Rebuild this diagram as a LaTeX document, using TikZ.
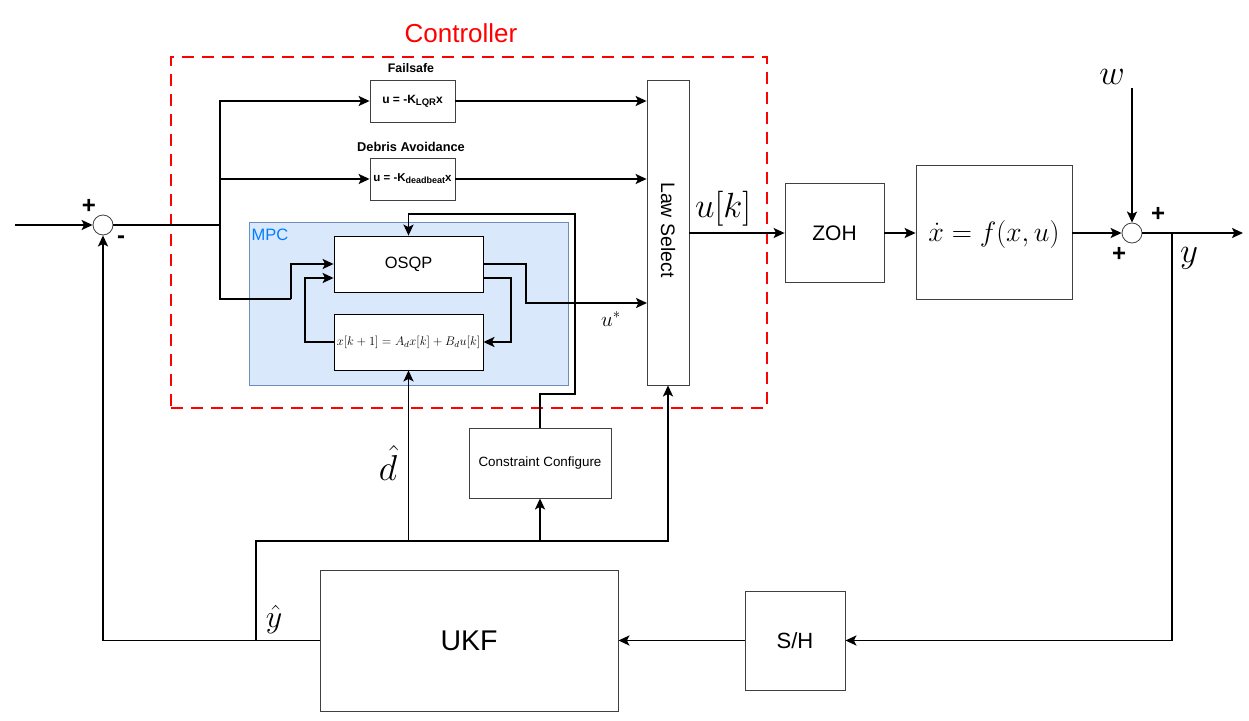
\RequirePackage{fix-cm}
\documentclass[tikz,border=0pt]{standalone}
\usepackage{fontspec}
\setmainfont{Liberation Sans}
\usetikzlibrary{arrows.meta}
\definecolor{mpcfill}{HTML}{DAE8FC}
\definecolor{mpcline}{HTML}{6C8EBF}
\definecolor{mpctext}{HTML}{007FFF}
\newcommand{\fsz}[1]{\fontsize{#1}{#1}\selectfont}
\begin{document}
\begin{tikzpicture}[x=1pt,y=-1pt,
  wire/.style={line width=1.9pt, black},
  arr/.style={wire, -{Stealth[length=11pt,width=10pt,inset=2.5pt]}},
  blk/.style={draw=black!75, line width=0.8pt, fill=white, inner sep=0pt, align=center},
  sumc/.style={circle, draw=black!75, line width=0.8pt, fill=white, minimum size=20pt, inner sep=0pt},
  lbl/.style={inner sep=0pt}
]
\useasboundingbox (0,0) rectangle (1249,720);

% Controller dashed frame
\node[draw=red, dash pattern=on 12pt off 8pt, line width=1.2pt, minimum width=596pt, minimum height=351pt, inner sep=0pt] (ctrl) at (469,232.5) {};
\node[lbl, text=red] (ctrllbl) at (461,33) {\fsz{26}Controller};

% MPC region
\node[draw=mpcline, fill=mpcfill, line width=0.8pt, minimum width=319pt, minimum height=163pt, inner sep=0pt] (mpc) at (408.5,303.5) {};
\node[lbl, text=mpctext] (mpclbl) at (270,235) {\fsz{16.5}MPC};

% Blocks
\node[sumc] (sum1) at (103,225) {};
\node[blk, minimum width=85pt, minimum height=42pt] (fs) at (412.5,101) {\fsz{12}\bfseries u = -K\raisebox{-0.35ex}{\fsz{9.5}LQR}x};
\node[lbl] (fslbl) at (411,68) {\fsz{12.4}\bfseries Failsafe};
\node[blk, minimum width=85pt, minimum height=42pt] (da) at (412.5,179) {\fsz{11.5}\bfseries u = -K\raisebox{-0.35ex}{\fsz{9}deadbeat}x};
\node[lbl] (dalbl) at (411,147) {\fsz{12.8}\bfseries Debris Avoidance};
\node[blk, draw=black, minimum width=149pt, minimum height=56pt] (osqp) at (408.5,264) {\fsz{16.4}OSQP};
\node[blk, draw=black, minimum width=149pt, minimum height=56pt] (model) at (408.5,342) {\fsz{12.5}$x[k+1]=A_dx[k]+B_du[k]$};
\node[blk, minimum width=42pt, minimum height=305pt] (law) at (668,232.5) {};
\node[lbl, rotate=-90] (lawtxt) at (668,230) {\fsz{19.5}Law Select};
\node[blk, minimum width=142pt, minimum height=70pt] (cc) at (540,463) {\fsz{13.4}Constraint Configure};
\node[blk, minimum width=99pt, minimum height=99pt] (zoh) at (834.5,233) {\fsz{21}ZOH};
\node[blk, minimum width=156pt, minimum height=134pt] (plant) at (994,232) {};
\node[lbl] (plantxt) at (994,234) {\fsz{28}$\dot{x}=f(x,u)$};
\node[sumc] (sum2) at (1132,233) {};
\node[blk, minimum width=100pt, minimum height=99pt] (sh) at (795,640.5) {\fsz{22}S/H};
\node[blk, minimum width=298pt, minimum height=141pt] (ukf) at (469,640.5) {\fsz{28.5}UKF};

% Coordinates
\coordinate (in) at (15,225);
\coordinate (j) at (220,225);
\coordinate (jb) at (220,299);
\coordinate (ja) at (291,299);
\coordinate (ustar) at (526,303);
\coordinate (ustarend) at (647,303);
\coordinate (ccup) at (540,394);
\coordinate (ccright) at (575,394);
\coordinate (cctop) at (575,214);
\coordinate (w) at (1132,88);
\coordinate (out) at (1243,233);
\coordinate (br) at (1172,233);
\coordinate (yh) at (256,640);
\coordinate (bus) at (256,541);
\coordinate (busd) at (408.5,541);
\coordinate (busc) at (540,541);

% Connectors
\draw[arr] (in) -- (sum1.west);
\draw[wire] (sum1.east) -- (j);
\draw[arr] (j) |- (fs.west);
\draw[arr] (j) |- (da.west);
\draw[wire] (j) -- (jb) -- (ja);
\draw[arr] (ja) |- (osqp.west);
\draw[arr] (fs.east) -- (fs.east -| law.west);
\draw[arr] (da.east) -- (da.east -| law.west);
\draw[arr] (osqp.east) -| (ustar) -- (ustarend);
\draw[arr] ([yshift=-14pt]osqp.east) -- ++(28,0) |- (model.east);
\draw[arr] (model.west) -- ++(-29,0) |- ([yshift=-14pt]osqp.west);
\draw[arr] (cc.north) -- (ccup) -- (ccright) -- (cctop) -| (osqp.north);
\draw[arr] (law.east |- zoh.west) -- (zoh.west);
\draw[arr] (zoh.east) -- (zoh.east -| plant.west);
\draw[arr] (plant.east |- sum2.west) -- (sum2.west);
\draw[arr] (w) -- (sum2.north);
\draw[arr] (sum2.east) -- (out);
\draw[arr] (br) |- (sh.east);
\draw[arr] (sh.west) -- (ukf.east);
\draw[arr] (ukf.west) -| (sum1.south);
\draw[arr] (yh) -- (bus) -| (law.south);
\draw[arr] (busd) -- (model.south);
\draw[arr] (busc) -- (cc.south);

% Labels
\node[lbl] (p1) at (89,206) {\fsz{24}\bfseries +};
\node[lbl] (m1) at (121,240) {\fsz{24}\bfseries -};
\node[lbl] (p2) at (1158,214) {\fsz{24}\bfseries +};
\node[lbl] (p3) at (1119,254) {\fsz{24}\bfseries +};
\node[lbl] (ustarlbl) at (611,319) {\fsz{21}$u^*$};
\node[lbl] (uklbl) at (723,209) {\fsz{35}$u[k]$};
\node[lbl] (wlbl) at (1112,77) {\fsz{35}$w$};
\node[lbl] (ylbl) at (1189,258) {\fsz{35}$y$};
\node[lbl] (dlbl) at (388,463) {\fsz{36}$\hat{d}$};
\node[lbl] (yhlbl) at (274,619) {\fsz{32}$\hat{y}$};
\end{tikzpicture}
\end{document}
